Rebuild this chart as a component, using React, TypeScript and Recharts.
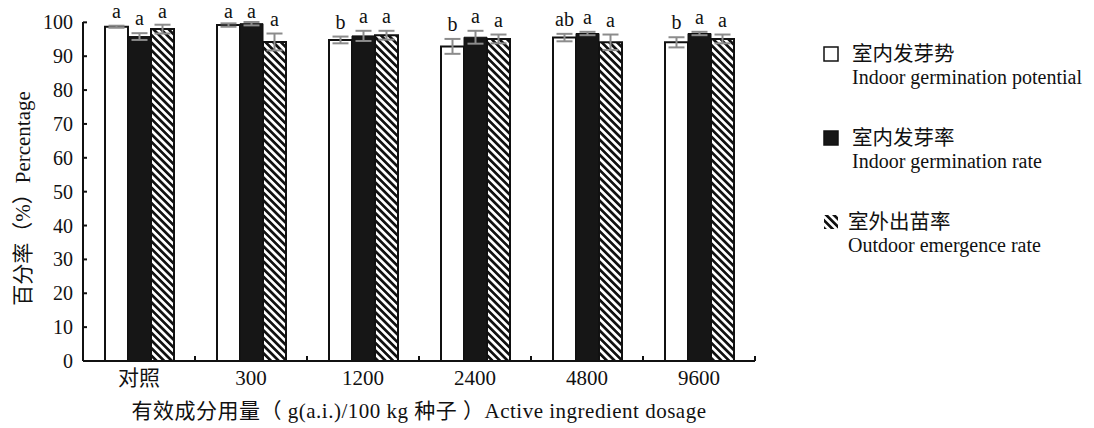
import React from 'react';
import { BarChart, Bar, XAxis, YAxis, ErrorBar, LabelList, Label, Legend } from 'recharts';

const categories = ['对照', '300', '1200', '2400', '4800', '9600'];
const potential = [98.7, 99.2, 94.8, 92.9, 95.5, 94.1];
const potentialErr = [0.3, 0.5, 1.0, 2.2, 1.1, 1.5];
const potentialSig = ['a', 'a', 'b', 'b', 'ab', 'b'];
const rate = [95.8, 99.6, 96.0, 95.6, 96.7, 96.7];
const rateErr = [1.0, 0.5, 1.5, 1.9, 0.5, 0.5];
const rateSig = ['a', 'a', 'a', 'a', 'a', 'a'];
const emergence = [98.0, 94.2, 96.2, 95.1, 94.1, 95.1];
const emergenceErr = [1.3, 2.5, 1.3, 1.3, 2.3, 1.3];
const emergenceSig = ['a', 'a', 'a', 'a', 'a', 'a'];
const yTicks = [0, 10, 20, 30, 40, 50, 60, 70, 80, 90, 100];
const seriesZh = ['室内发芽势', '室内发芽率', '室外出苗率'];
const seriesEn = ['Indoor germination potential', 'Indoor germination rate', 'Outdoor emergence rate'];
const yTitle = '百分率（%）Percentage';
const xTitle = '有效成分用量（ g(a.i.)/100 kg 种子 ）Active ingredient dosage';

const data = categories.map((c, i) => ({
  name: c,
  potential: potential[i],
  potentialErr: potentialErr[i],
  potentialSig: potentialSig[i],
  rate: rate[i],
  rateErr: rateErr[i],
  rateSig: rateSig[i],
  emergence: emergence[i],
  emergenceErr: emergenceErr[i],
  emergenceSig: emergenceSig[i],
}));

const FONT = "'Liberation Serif', 'Times New Roman', 'Noto Sans CJK SC', serif";
const W = 1094;
const H = 428;
const MARGIN = { top: 22, right: 339, bottom: 37, left: 23 };
const Y_AXIS_W = 60;
const PLOT_W = W - MARGIN.left - MARGIN.right - Y_AXIS_W;
const BAND = PLOT_W / categories.length;
const ERR_COLOR = '#8c8c8c';
const FILLS = ['#ffffff', '#161616', 'url(#hatch)'];

const XTick = (props: any) => {
  const { x, y, payload } = props;
  return (
    <g>
      <text x={x} y={y + 24} textAnchor="middle" fontSize={21} fontFamily={FONT} fill="#111">
        {payload.value}
      </text>
      <line x1={x + BAND / 2} x2={x + BAND / 2} y1={y} y2={y - 5} stroke="#111" strokeWidth={2} />
    </g>
  );
};

const YTick = (props: any) => {
  const { x, y, payload } = props;
  return (
    <g>
      <text x={x} y={y} dy="0.35em" textAnchor="end" fontSize={20} fontFamily={FONT} fill="#111">
        {payload.value}
      </text>
      <line x1={x + 10} x2={x + 14} y1={y} y2={y} stroke="#111" strokeWidth={2} />
    </g>
  );
};

const sigRenderer = (valKey: string, errKey: string) => (props: any) => {
  const { x, y, width, height, value, index } = props;
  const d: any = data[index];
  const pxPerUnit = Number(height) / d[valKey];
  const top = Number(y) - d[errKey] * pxPerUnit;
  const base = Math.max(top - 8, 18);
  return (
    <text x={Number(x) + Number(width) / 2} y={base} textAnchor="middle" fontSize={20} fontFamily={FONT} fill="#111">
      {value}
    </text>
  );
};

const YTitle = (props: any) => {
  const vb = props.viewBox;
  const cx = vb.x;
  const cy = vb.y + vb.height / 2 + 7;
  return (
    <text x={cx} y={cy} transform={`rotate(-90 ${cx} ${cy})`} textAnchor="middle" dominantBaseline="central" fontSize={21} fontFamily={FONT} fill="#111">
      {yTitle}
    </text>
  );
};

const XTitle = (props: any) => {
  const vb = props.viewBox;
  return (
    <text x={vb.x + vb.width / 2} y={vb.y + 57} textAnchor="middle" fontSize={21} letterSpacing={0.5} fontFamily={FONT} fill="#111">
      {xTitle}
    </text>
  );
};

const LegendContent = () => (
  <svg width={279} height={240} style={{ display: 'block' }}>
    {seriesZh.map((zh, i) => (
      <g key={zh}>
        <rect
          x={9}
          y={17 + 84 * i}
          width={14}
          height={14}
          fill={FILLS[i]}
          stroke="#111"
          strokeWidth={i === 2 ? 0 : 1.5}
        />
        <text x={i === 2 ? 33 : 37} y={31 + 84 * i} fontSize={20.5} fontFamily={FONT} fill="#111">
          {zh}
        </text>
        <text x={i === 2 ? 33 : 37} y={54 + 84 * i} fontSize={20} fontFamily={FONT} fill="#111">
          {seriesEn[i]}
        </text>
      </g>
    ))}
  </svg>
);

export default function App() {
  return (
    <div style={{ position: 'absolute', left: 0, top: 0, width: W, height: H, background: '#fff' }}>
      <svg width={0} height={0} style={{ position: 'absolute' }}>
        <defs>
          <pattern id="hatch" patternUnits="userSpaceOnUse" width={5.4} height={5.4} patternTransform="rotate(-45)">
            <rect x={0} y={0} width={5.4} height={5.4} fill="#fff" />
            <rect x={0} y={0} width={2.7} height={5.4} fill="#111" />
          </pattern>
        </defs>
      </svg>
      <BarChart width={W} height={H} data={data} margin={MARGIN} barGap={0}>
        <XAxis
          dataKey="name"
          height={30}
          axisLine={{ stroke: '#111', strokeWidth: 2 }}
          tickLine={false}
          tickSize={0}
          tickMargin={0}
          tick={<XTick />}
          interval={0}
        >
          <Label content={<XTitle />} />
        </XAxis>
        <YAxis
          width={Y_AXIS_W}
          domain={[0, 100]}
          ticks={yTicks}
          interval={0}
          axisLine={{ stroke: '#111', strokeWidth: 2 }}
          tickLine={false}
          tickSize={0}
          tickMargin={10}
          tick={<YTick />}
        >
          <Label content={<YTitle />} />
        </YAxis>
        <Legend
          layout="vertical"
          align="center"
          verticalAlign="middle"
          content={<LegendContent />}
          wrapperStyle={{ left: 815, top: 30, width: 279, height: 240 }}
        />
        <Bar dataKey="potential" name={seriesZh[0]} fill={FILLS[0]} stroke="#111" strokeWidth={2} barSize={23} isAnimationActive={false}>
          <ErrorBar dataKey="potentialErr" width={8} strokeWidth={2} stroke={ERR_COLOR} direction="y" />
          <LabelList dataKey="potentialSig" content={sigRenderer('potential', 'potentialErr')} />
        </Bar>
        <Bar dataKey="rate" name={seriesZh[1]} fill={FILLS[1]} stroke="#111" strokeWidth={1} barSize={23} isAnimationActive={false}>
          <ErrorBar dataKey="rateErr" width={8} strokeWidth={2} stroke={ERR_COLOR} direction="y" />
          <LabelList dataKey="rateSig" content={sigRenderer('rate', 'rateErr')} />
        </Bar>
        <Bar dataKey="emergence" name={seriesZh[2]} fill={FILLS[2]} stroke="#111" strokeWidth={2} barSize={23} isAnimationActive={false}>
          <ErrorBar dataKey="emergenceErr" width={8} strokeWidth={2} stroke={ERR_COLOR} direction="y" />
          <LabelList dataKey="emergenceSig" content={sigRenderer('emergence', 'emergenceErr')} />
        </Bar>
      </BarChart>
    </div>
  );
}
